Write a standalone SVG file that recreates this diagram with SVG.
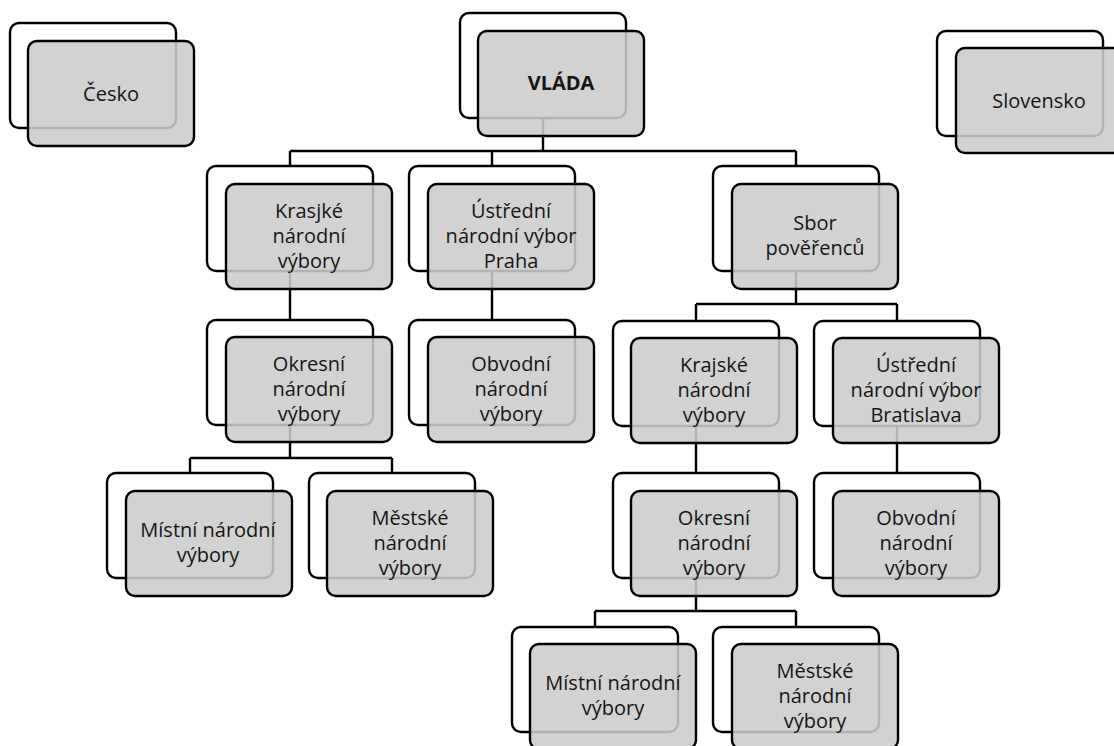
<svg xmlns="http://www.w3.org/2000/svg" width="1114" height="746" viewBox="0 0 1114 746">
<style>
.back{fill:#ffffff;stroke:#000;stroke-width:2.4}
.front{fill:#cbcbcb;fill-opacity:0.875;stroke:#000;stroke-width:2.4}
.lbl{font-family:"Open Sans","Liberation Sans",sans-serif;font-size:20px;fill:#151515;text-anchor:middle}
.b{font-weight:bold}
.conn{fill:none;stroke:#000;stroke-width:2.4}
</style>
<defs>
<rect id="bk" class="back" width="166" height="105" rx="9"/>
<rect id="fr" class="front" width="166" height="105" rx="9"/>
</defs>
<g id="connectors">
<path class="conn" d="M543 118 V151 M290 151 H796 M290 151 V166 M492 151 V166 M796 151 V166"/>
<path class="conn" d="M290 271 V320 M492 271 V320"/>
<path class="conn" d="M796 271 V304 M696 304 H897 M696 304 V321 M897 304 V321"/>
<path class="conn" d="M696 426 V473 M897 426 V473"/>
<path class="conn" d="M290 425 V458 M190 458 H392 M190 458 V473 M392 458 V473"/>
<path class="conn" d="M696 578 V611 M595 611 H796 M595 611 V627 M796 611 V627"/>
</g>
<g id="cesko"><use href="#bk" x="10" y="23"/><use href="#fr" x="28" y="41"/>
<text class="lbl" x="111" y="101">Česko</text></g>
<g id="vlada"><use href="#bk" x="460" y="13"/><use href="#fr" x="478" y="31"/>
<text class="lbl b" x="561" y="90">VLÁDA</text></g>
<g id="slovensko"><use href="#bk" x="937" y="31"/><use href="#fr" x="956" y="48"/>
<text class="lbl" x="1039" y="108">Slovensko</text></g>
<g id="krasjke"><use href="#bk" x="207" y="166"/><use href="#fr" x="226" y="184"/>
<text class="lbl" x="309" y="218">Krasjké</text><text class="lbl" x="309" y="243">národní</text><text class="lbl" x="309" y="268">výbory</text></g>
<g id="unv-praha"><use href="#bk" x="409" y="166"/><use href="#fr" x="428" y="184"/>
<text class="lbl" x="511" y="218">Ústřední</text><text class="lbl" x="511" y="243">národní výbor</text><text class="lbl" x="511" y="268">Praha</text></g>
<g id="sbor"><use href="#bk" x="713" y="166"/><use href="#fr" x="732" y="184"/>
<text class="lbl" x="815" y="230">Sbor</text><text class="lbl" x="815" y="255">pověřenců</text></g>
<g id="okresni-cz"><use href="#bk" x="207" y="320"/><use href="#fr" x="226" y="337"/>
<text class="lbl" x="309" y="371">Okresní</text><text class="lbl" x="309" y="396">národní</text><text class="lbl" x="309" y="421">výbory</text></g>
<g id="obvodni-cz"><use href="#bk" x="409" y="320"/><use href="#fr" x="428" y="337"/>
<text class="lbl" x="511" y="371">Obvodní</text><text class="lbl" x="511" y="396">národní</text><text class="lbl" x="511" y="421">výbory</text></g>
<g id="krajske-sk"><use href="#bk" x="613" y="321"/><use href="#fr" x="631" y="338"/>
<text class="lbl" x="714" y="372">Krajské</text><text class="lbl" x="714" y="397">národní</text><text class="lbl" x="714" y="422">výbory</text></g>
<g id="unv-bratislava"><use href="#bk" x="814" y="321"/><use href="#fr" x="833" y="338"/>
<text class="lbl" x="916" y="372">Ústřední</text><text class="lbl" x="916" y="397">národní výbor</text><text class="lbl" x="916" y="422">Bratislava</text></g>
<g id="mistni-cz"><use href="#bk" x="107" y="473"/><use href="#fr" x="126" y="491"/>
<text class="lbl" x="208" y="537">Místní národní</text><text class="lbl" x="208" y="562">výbory</text></g>
<g id="mestske-cz"><use href="#bk" x="309" y="473"/><use href="#fr" x="327" y="491"/>
<text class="lbl" x="410" y="525">Městské</text><text class="lbl" x="410" y="550">národní</text><text class="lbl" x="410" y="575">výbory</text></g>
<g id="okresni-sk"><use href="#bk" x="613" y="473"/><use href="#fr" x="631" y="491"/>
<text class="lbl" x="714" y="525">Okresní</text><text class="lbl" x="714" y="550">národní</text><text class="lbl" x="714" y="575">výbory</text></g>
<g id="obvodni-sk"><use href="#bk" x="814" y="473"/><use href="#fr" x="833" y="491"/>
<text class="lbl" x="916" y="525">Obvodní</text><text class="lbl" x="916" y="550">národní</text><text class="lbl" x="916" y="575">výbory</text></g>
<g id="mistni-sk"><use href="#bk" x="512" y="627"/><use href="#fr" x="530" y="644"/>
<text class="lbl" x="613" y="690">Místní národní</text><text class="lbl" x="613" y="715">výbory</text></g>
<g id="mestske-sk"><use href="#bk" x="713" y="627"/><use href="#fr" x="732" y="644"/>
<text class="lbl" x="815" y="678">Městské</text><text class="lbl" x="815" y="703">národní</text><text class="lbl" x="815" y="728">výbory</text></g>
</svg>
